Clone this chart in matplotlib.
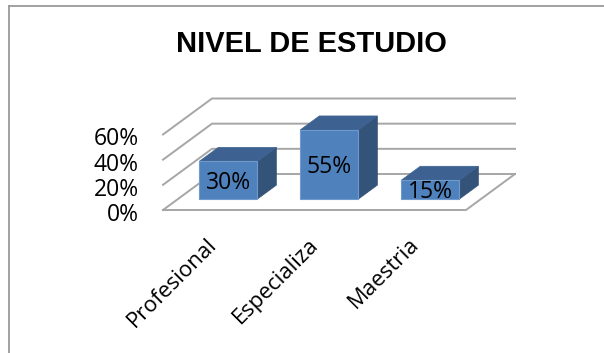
import matplotlib
matplotlib.use("Agg")
import matplotlib.pyplot as plt
from matplotlib.patches import Polygon
from matplotlib.lines import Line2D

categories = ["Profesional", "Especializa", "Maestria"]
values = [30, 55, 15]
labels = ["30%", "55%", "15%"]
yticks = [0, 20, 40, 60]
yticklabels = ["0%", "20%", "40%", "60%"]
title = "NIVEL DE ESTUDIO"

W, H = 604, 353
fig = plt.figure(figsize=(W / 100, H / 100), dpi=100, facecolor="white")
FONT = "Open Sans"

# frame (only top and left are visible)
fig.add_artist(Line2D([8.5 / W, 8.5 / W], [0, 1 - 5.5 / H], color="#9a9a9a", lw=1.3))
fig.add_artist(Line2D([8.5 / W, 1], [1 - 5.5 / H, 1 - 5.5 / H], color="#9a9a9a", lw=1.3))

# axes = front plane of the 3D box
L, R, B, T = 163, 466, 210, 134.5
ax = fig.add_axes([L / W, 1 - B / H, (R - L) / W, (B - T) / H])
ax.set_xlim(0, 3)
ax.set_ylim(0, 60)
ax.axis("off")

PX_X = 3 / (R - L)
PX_Y = 60 / (B - T)
DX, DY = 49 * PX_X, 36 * PX_Y  # offset of the back plane


def p(x, y, d=0.0):
    return (x + d * DX, y + d * DY)


GRID = "#a6a6a6"
for t in yticks:
    ax.plot(*zip(p(0, t, 0), p(0, t, 1), p(3, t, 1)), color=GRID, lw=1.4,
            clip_on=False, solid_joinstyle="miter", zorder=1)
ax.plot(*zip(p(0, 0, 0), p(3, 0, 0), p(3, 0, 1)), color=GRID, lw=1.4,
        clip_on=False, zorder=1)

BW = 0.575
D0, D1 = 0.30, 0.69
for i, v in enumerate(values):
    x0, x1 = i + 0.5 - BW / 2, i + 0.5 + BW / 2
    ax.add_patch(Polygon([p(x1, 0, D0), p(x1, 0, D1), p(x1, v, D1), p(x1, v, D0)],
                         fc="#335379", ec="#335379", lw=0.5, clip_on=False, zorder=3))
    ax.add_patch(Polygon([p(x0, v, D0), p(x1, v, D0), p(x1, v, D1), p(x0, v, D1)],
                         fc="#3d6292", ec="#3d6292", lw=0.5, clip_on=False, zorder=3))
    ax.add_patch(Polygon([p(x0, 0, D0), p(x1, 0, D0), p(x1, v, D0), p(x0, v, D0)],
                         fc="#4f81bd", ec="#6f9acb", lw=0.8, clip_on=False, zorder=4))
    cx, cy = p(i + 0.5, v / 2, D0)
    ax.annotate(labels[i], xy=(cx, cy), xytext=(0, -2.5), textcoords="offset pixels",
                ha="center", va="center", fontsize=16.5, family=FONT, color="black",
                zorder=5, annotation_clip=False)

for t, s in zip(yticks, yticklabels):
    ax.annotate(s, xy=(0, t), xytext=(-24, -5), textcoords="offset pixels",
                ha="right", va="center", fontsize=16.5, family=FONT, color="black",
                annotation_clip=False)

for i, c in enumerate(categories):
    ax.annotate(c, xy=(i + 0.5, 0), xytext=(-7, -24), textcoords="offset pixels",
                ha="right", va="top", rotation=45, rotation_mode="anchor",
                fontsize=16, family=FONT, color="black", annotation_clip=False)

fig.text(311.5 / W, 1 - 44.5 / H, title, ha="center", va="center", fontsize=20.9,
         fontweight="bold", family="Liberation Sans", color="black")

fig.savefig("out.png", dpi=100, facecolor="white")
